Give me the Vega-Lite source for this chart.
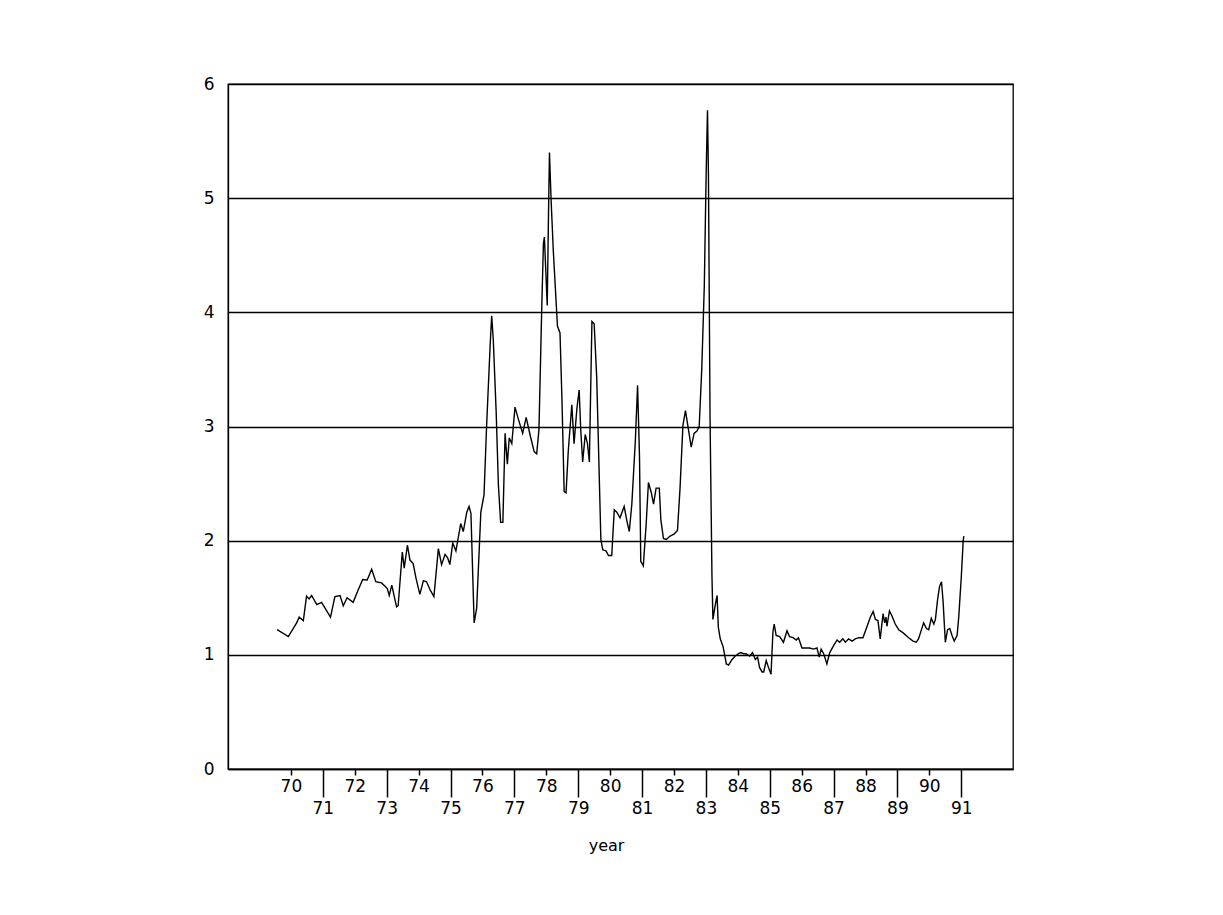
{
  "$schema": "https://vega.github.io/schema/vega-lite/v6.json",
  "autosize": "none",
  "padding": {"left": 228, "top": 84, "right": 210, "bottom": 146},
  "width": 785,
  "height": 685,
  "background": "white",
  "config": {
    "view": {"stroke": "black", "strokeWidth": 1.3},
    "font": "DejaVu Sans"
  },
  "data": {"values": [
    {"year": 69.57, "value": 1.22}, {"year": 69.92, "value": 1.16}, {"year": 70.18, "value": 1.28}, {"year": 70.26, "value": 1.33},
    {"year": 70.39, "value": 1.30}, {"year": 70.49, "value": 1.515}, {"year": 70.57, "value": 1.49}, {"year": 70.65, "value": 1.52},
    {"year": 70.81, "value": 1.44}, {"year": 70.96, "value": 1.46}, {"year": 71.07, "value": 1.41}, {"year": 71.24, "value": 1.33},
    {"year": 71.38, "value": 1.51}, {"year": 71.54, "value": 1.52}, {"year": 71.64, "value": 1.43}, {"year": 71.76, "value": 1.50},
    {"year": 71.95, "value": 1.46}, {"year": 72.11, "value": 1.57}, {"year": 72.25, "value": 1.66}, {"year": 72.39, "value": 1.655},
    {"year": 72.53, "value": 1.75}, {"year": 72.66, "value": 1.64}, {"year": 72.84, "value": 1.63}, {"year": 72.95, "value": 1.60},
    {"year": 73.02, "value": 1.58}, {"year": 73.08, "value": 1.52}, {"year": 73.16, "value": 1.61}, {"year": 73.31, "value": 1.42},
    {"year": 73.36, "value": 1.43}, {"year": 73.49, "value": 1.90}, {"year": 73.55, "value": 1.76}, {"year": 73.65, "value": 1.96},
    {"year": 73.73, "value": 1.83}, {"year": 73.83, "value": 1.80}, {"year": 73.92, "value": 1.67}, {"year": 74.04, "value": 1.53},
    {"year": 74.15, "value": 1.65}, {"year": 74.25, "value": 1.64}, {"year": 74.36, "value": 1.57}, {"year": 74.48, "value": 1.51},
    {"year": 74.62, "value": 1.93}, {"year": 74.72, "value": 1.79}, {"year": 74.83, "value": 1.88}, {"year": 74.91, "value": 1.85},
    {"year": 74.98, "value": 1.79}, {"year": 75.07, "value": 1.98}, {"year": 75.17, "value": 1.91}, {"year": 75.32, "value": 2.15},
    {"year": 75.40, "value": 2.08}, {"year": 75.51, "value": 2.25}, {"year": 75.58, "value": 2.30}, {"year": 75.64, "value": 2.24},
    {"year": 75.74, "value": 1.28}, {"year": 75.82, "value": 1.41}, {"year": 75.95, "value": 2.25}, {"year": 76.05, "value": 2.40},
    {"year": 76.13, "value": 3.00}, {"year": 76.24, "value": 3.70}, {"year": 76.29, "value": 3.97}, {"year": 76.34, "value": 3.76},
    {"year": 76.43, "value": 3.13}, {"year": 76.50, "value": 2.49}, {"year": 76.57, "value": 2.16}, {"year": 76.64, "value": 2.16},
    {"year": 76.71, "value": 2.94}, {"year": 76.78, "value": 2.67}, {"year": 76.84, "value": 2.90}, {"year": 76.92, "value": 2.85},
    {"year": 77.02, "value": 3.17}, {"year": 77.13, "value": 3.06}, {"year": 77.26, "value": 2.94}, {"year": 77.37, "value": 3.08},
    {"year": 77.49, "value": 2.93}, {"year": 77.62, "value": 2.78}, {"year": 77.70, "value": 2.76}, {"year": 77.77, "value": 2.97},
    {"year": 77.86, "value": 4.06}, {"year": 77.91, "value": 4.60}, {"year": 77.94, "value": 4.66}, {"year": 77.99, "value": 4.33},
    {"year": 78.03, "value": 4.06}, {"year": 78.07, "value": 4.87}, {"year": 78.10, "value": 5.40}, {"year": 78.15, "value": 4.99},
    {"year": 78.22, "value": 4.54}, {"year": 78.35, "value": 3.88}, {"year": 78.43, "value": 3.82}, {"year": 78.49, "value": 3.25},
    {"year": 78.56, "value": 2.43}, {"year": 78.62, "value": 2.42}, {"year": 78.69, "value": 2.79}, {"year": 78.80, "value": 3.19},
    {"year": 78.87, "value": 2.85}, {"year": 78.96, "value": 3.16}, {"year": 79.03, "value": 3.32}, {"year": 79.08, "value": 2.97},
    {"year": 79.14, "value": 2.69}, {"year": 79.22, "value": 2.93}, {"year": 79.29, "value": 2.85}, {"year": 79.35, "value": 2.69},
    {"year": 79.43, "value": 3.92}, {"year": 79.50, "value": 3.90}, {"year": 79.58, "value": 3.43}, {"year": 79.71, "value": 2.01},
    {"year": 79.77, "value": 1.92}, {"year": 79.87, "value": 1.91}, {"year": 79.95, "value": 1.87}, {"year": 80.05, "value": 1.87},
    {"year": 80.13, "value": 2.27}, {"year": 80.21, "value": 2.25}, {"year": 80.31, "value": 2.20}, {"year": 80.44, "value": 2.30},
    {"year": 80.52, "value": 2.18}, {"year": 80.60, "value": 2.08}, {"year": 80.68, "value": 2.32}, {"year": 80.79, "value": 2.875},
    {"year": 80.86, "value": 3.36}, {"year": 80.92, "value": 2.74}, {"year": 80.96, "value": 1.82}, {"year": 81.04, "value": 1.78},
    {"year": 81.13, "value": 2.15}, {"year": 81.20, "value": 2.51}, {"year": 81.29, "value": 2.42}, {"year": 81.36, "value": 2.32},
    {"year": 81.44, "value": 2.46}, {"year": 81.54, "value": 2.46}, {"year": 81.59, "value": 2.18}, {"year": 81.67, "value": 2.02},
    {"year": 81.76, "value": 2.01}, {"year": 81.88, "value": 2.04}, {"year": 82.01, "value": 2.06}, {"year": 82.11, "value": 2.09},
    {"year": 82.19, "value": 2.46}, {"year": 82.28, "value": 3.01}, {"year": 82.36, "value": 3.14}, {"year": 82.45, "value": 2.98},
    {"year": 82.54, "value": 2.82}, {"year": 82.63, "value": 2.94}, {"year": 82.72, "value": 2.96}, {"year": 82.79, "value": 3.00},
    {"year": 82.87, "value": 3.50}, {"year": 82.95, "value": 4.23}, {"year": 83.01, "value": 5.24}, {"year": 83.05, "value": 5.77},
    {"year": 83.08, "value": 5.20}, {"year": 83.13, "value": 3.08}, {"year": 83.19, "value": 1.69}, {"year": 83.22, "value": 1.31},
    {"year": 83.29, "value": 1.43}, {"year": 83.35, "value": 1.52}, {"year": 83.39, "value": 1.24}, {"year": 83.45, "value": 1.14},
    {"year": 83.54, "value": 1.07}, {"year": 83.64, "value": 0.92}, {"year": 83.71, "value": 0.91}, {"year": 83.82, "value": 0.96},
    {"year": 83.92, "value": 0.99}, {"year": 84.02, "value": 1.01}, {"year": 84.10, "value": 1.02}, {"year": 84.18, "value": 1.01},
    {"year": 84.26, "value": 1.01}, {"year": 84.37, "value": 0.99}, {"year": 84.46, "value": 1.02}, {"year": 84.55, "value": 0.96},
    {"year": 84.62, "value": 0.98}, {"year": 84.68, "value": 0.89}, {"year": 84.76, "value": 0.85}, {"year": 84.81, "value": 0.85},
    {"year": 84.89, "value": 0.95}, {"year": 84.96, "value": 0.89}, {"year": 85.04, "value": 0.83}, {"year": 85.10, "value": 1.20},
    {"year": 85.14, "value": 1.27}, {"year": 85.20, "value": 1.17}, {"year": 85.31, "value": 1.16}, {"year": 85.43, "value": 1.11},
    {"year": 85.54, "value": 1.21}, {"year": 85.62, "value": 1.16}, {"year": 85.73, "value": 1.15}, {"year": 85.83, "value": 1.13},
    {"year": 85.90, "value": 1.15}, {"year": 86.01, "value": 1.06}, {"year": 86.11, "value": 1.06}, {"year": 86.25, "value": 1.06},
    {"year": 86.37, "value": 1.05}, {"year": 86.48, "value": 1.06}, {"year": 86.55, "value": 0.98}, {"year": 86.61, "value": 1.05},
    {"year": 86.69, "value": 1.01}, {"year": 86.79, "value": 0.92}, {"year": 86.88, "value": 1.02}, {"year": 87.00, "value": 1.08},
    {"year": 87.11, "value": 1.13}, {"year": 87.19, "value": 1.11}, {"year": 87.29, "value": 1.14}, {"year": 87.37, "value": 1.11},
    {"year": 87.47, "value": 1.14}, {"year": 87.58, "value": 1.12}, {"year": 87.68, "value": 1.14}, {"year": 87.79, "value": 1.15},
    {"year": 87.92, "value": 1.15}, {"year": 88.05, "value": 1.25}, {"year": 88.15, "value": 1.33}, {"year": 88.24, "value": 1.38},
    {"year": 88.31, "value": 1.31}, {"year": 88.39, "value": 1.30}, {"year": 88.46, "value": 1.14}, {"year": 88.55, "value": 1.36},
    {"year": 88.60, "value": 1.28}, {"year": 88.64, "value": 1.33}, {"year": 88.67, "value": 1.25}, {"year": 88.75, "value": 1.385},
    {"year": 88.83, "value": 1.34}, {"year": 88.93, "value": 1.27}, {"year": 89.04, "value": 1.22}, {"year": 89.19, "value": 1.19},
    {"year": 89.35, "value": 1.15}, {"year": 89.49, "value": 1.12}, {"year": 89.59, "value": 1.11}, {"year": 89.66, "value": 1.14},
    {"year": 89.74, "value": 1.21}, {"year": 89.82, "value": 1.28}, {"year": 89.91, "value": 1.23}, {"year": 89.98, "value": 1.22},
    {"year": 90.06, "value": 1.32}, {"year": 90.14, "value": 1.27}, {"year": 90.19, "value": 1.31}, {"year": 90.26, "value": 1.49},
    {"year": 90.32, "value": 1.60}, {"year": 90.38, "value": 1.64}, {"year": 90.43, "value": 1.47}, {"year": 90.50, "value": 1.11},
    {"year": 90.57, "value": 1.22}, {"year": 90.64, "value": 1.23}, {"year": 90.71, "value": 1.17}, {"year": 90.78, "value": 1.12},
    {"year": 90.87, "value": 1.17}, {"year": 90.92, "value": 1.33}, {"year": 91.00, "value": 1.68}, {"year": 91.06, "value": 2.00},
    {"year": 91.08, "value": 2.04}
  ]},
  "mark": {"type": "line", "color": "black", "strokeWidth": 1.4, "interpolate": "linear"},
  "encoding": {
    "x": {
      "field": "year", "type": "quantitative",
      "scale": {"domain": [68.03, 92.62], "nice": false, "zero": false},
      "axis": {
        "values": [70,71,72,73,74,75,76,77,78,79,80,81,82,83,84,85,86,87,88,89,90,91],
        "format": "d",
        "grid": false,
        "domainColor": "black", "domainWidth": 1.6,
        "tickColor": "black", "tickWidth": 1.5,
        "tickSize": {"condition": {"test": "datum.value % 2 == 1", "value": 28}, "value": 6},
        "labelPadding": 3,
        "labelFont": "DejaVu Sans", "labelFontSize": 17, "labelColor": "black",
        "labelBaseline": "top",
        "labelAngle": 0,
        "labelOverlap": false,
        "labelFlush": false,
        "title": "year",
        "titleFont": "DejaVu Sans", "titleFontSize": 16, "titleFontWeight": "normal", "titleColor": "black",
        "titleX": 378, "titleY": 76, "titleBaseline": "middle", "titleAlign": "center"
      }
    },
    "y": {
      "field": "value", "type": "quantitative",
      "scale": {"domain": [0, 6], "nice": false},
      "axis": {
        "values": [0,1,2,3,4,5,6],
        "format": "d",
        "ticks": false,
        "domain": true, "domainColor": "black", "domainWidth": 1.3,
        "grid": true, "gridColor": "black", "gridWidth": 1.6, "gridOpacity": 1,
        "labelPadding": 14,
        "labelFont": "DejaVu Sans", "labelFontSize": 17, "labelColor": "black",
        "title": null
      }
    }
  }
}
